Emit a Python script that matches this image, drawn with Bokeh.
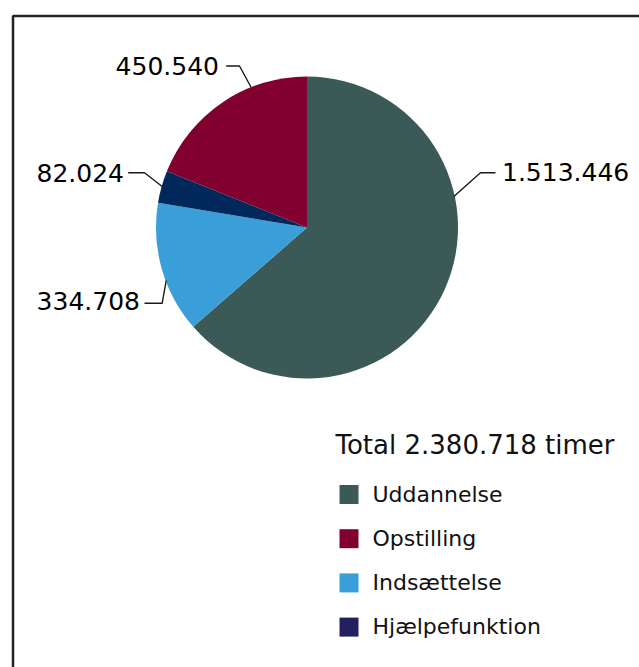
import math
from bokeh.plotting import figure
from bokeh.models import Range1d, ColumnDataSource
from bokeh.core.properties import value
from bokeh.embed import file_html
from bokeh.resources import INLINE

# ---- data ----
categories = ["Uddannelse", "Opstilling", "Indsættelse", "Hjælpefunktion"]
values = [1513446, 450540, 334708, 82024]
value_labels = ["1.513.446", "450.540", "334.708", "82.024"]
total_label = "Total 2.380.718 timer"
pie_order = [0, 2, 3, 1]  # clockwise from 12 o'clock

# ---- styles ----
pie_colors = ["#3B5956", "#82002F", "#3A9FD8", "#00285A"]
legend_colors = ["#3B5956", "#82002F", "#3A9FD8", "#232060"]
FONT = "DejaVu Sans"

W, H = 639, 667


def cx(px):
    return px


def cy(py):
    return H - py


p = figure(width=W, height=H, output_backend="svg", toolbar_location=None,
           x_range=Range1d(0, W), y_range=Range1d(0, H), min_border=0)
p.axis.visible = False
p.grid.visible = False
p.outline_line_color = None
p.background_fill_color = "white"
p.border_fill_color = "white"

# frame border (open to right/bottom as in reference)
p.line([cx(12.5), cx(12.5), W + 20], [-20, cy(15.5), cy(15.5)],
       line_color="#222222", line_width=2.5)

# ---- pie ----
total = sum(values)
starts, ends, cols = [], [], []
cum = 0.0
for i in pie_order:
    frac = values[i] / total
    starts.append(math.pi / 2 - 2 * math.pi * cum)
    cum += frac
    ends.append(math.pi / 2 - 2 * math.pi * cum)
    cols.append(pie_colors[i])
src = ColumnDataSource(dict(start=starts, end=ends, color=cols))
p.wedge(x=cx(306.5), y=cy(227), radius=151, start_angle="start", end_angle="end",
        direction="clock", fill_color="color", line_color=None, source=src)

# ---- value labels with leader lines ----
label_layout = {
    0: dict(x=501.5, y=171.5, align="left",
            line=[(453.3, 196), (480, 172.3), (495, 172.3)]),
    1: dict(x=218.5, y=65.5, align="right",
            line=[(225.7, 65.5), (239, 65.5), (250.7, 87)]),
    2: dict(x=139.5, y=300.5, align="right",
            line=[(144, 302.7), (161.7, 302.7), (165.7, 280)]),
    3: dict(x=123.5, y=172, align="right",
            line=[(127.7, 172.3), (144, 172.3), (161.7, 186)]),
}
for i, lay in label_layout.items():
    xs = [cx(a) for a, b in lay["line"]]
    ys = [cy(b) for a, b in lay["line"]]
    p.line(xs, ys, line_color="#1a1a1a", line_width=1.4)
    p.text(x=[cx(lay["x"])], y=[cy(lay["y"])], text=[value_labels[i]],
           text_font=value(FONT), text_font_size="25px", text_color="#000000",
           text_align=lay["align"], text_baseline="middle")

# ---- legend ----
p.text(x=[cx(335)], y=[cy(444)], text=[total_label], text_font=value(FONT),
       text_font_size="26px", text_color="#111111", text_align="left",
       text_baseline="middle")
leg_y = [cy(494 + 44.2 * k) for k in range(len(categories))]
p.rect(x=[cx(348.5)] * len(categories), y=leg_y, width=19, height=19,
       fill_color=legend_colors, line_color=None)
p.text(x=[cx(372)] * len(categories), y=[v + 0.5 for v in leg_y], text=categories,
       text_font=value(FONT), text_font_size="22px", text_color="#111111",
       text_align="left", text_baseline="middle")

open("out.html", "w").write(file_html(p, INLINE))
